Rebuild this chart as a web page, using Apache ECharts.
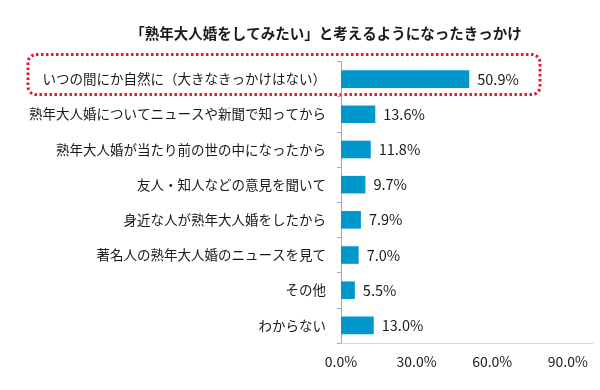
<!DOCTYPE html>
<html><head><meta charset="utf-8">
<script src="https://cdn.jsdelivr.net/npm/echarts@6/dist/echarts.min.js"></script>
<style>html,body{margin:0;padding:0;background:#fff}#c{width:600px;height:390px}</style>
</head><body><div id="c"></div>
<script>
const titleText = '「熟年大人婚をしてみたい」と考えるようになったきっかけ';
const categories = [
  'いつの間にか自然に（大きなきっかけはない）',
  '熟年大人婚についてニュースや新聞で知ってから',
  '熟年大人婚が当たり前の世の中になったから',
  '友人・知人などの意見を聞いて',
  '身近な人が熟年大人婚をしたから',
  '著名人の熟年大人婚のニュースを見て',
  'その他',
  'わからない'
];
const values = [50.9, 13.6, 11.8, 9.7, 7.9, 7.0, 5.5, 13.0];
const xTicks = [0, 30, 60, 90];

const font = '"Noto Sans CJK JP", "Noto Sans", sans-serif';
const chart = echarts.init(document.getElementById('c'));
chart.setOption({
  animation: false,
  title: {
    text: titleText, left: 321, top: 21, textAlign: 'center',
    textStyle: {fontFamily: font, fontSize: 14.5, fontWeight: 'bold', color: '#1a1a1a'}
  },
  grid: {left: 341, right: 7, top: 61.5, bottom: 47, containLabel: false},
  xAxis: {
    type: 'value', min: 0, max: 100, interval: 30,
    axisLine: {show: true, lineStyle: {color: '#d9d9d9'}},
    axisTick: {show: false},
    splitLine: {show: false},
    axisLabel: {
      showMaxLabel: false, margin: 12,
      fontFamily: font, fontSize: 14, color: '#1a1a1a',
      formatter: v => xTicks.includes(v) ? v.toFixed(1) + '%' : ''
    }
  },
  yAxis: {
    type: 'category', data: categories, inverse: true,
    axisLine: {show: true, lineStyle: {color: '#a6a6a6'}},
    axisTick: {show: true, length: 4, lineStyle: {color: '#a6a6a6'}},
    axisLabel: {margin: 15, fontFamily: font, fontSize: 13.5, color: '#1a1a1a'}
  },
  series: [{
    type: 'bar', data: values, barWidth: '50%',
    itemStyle: {color: '#0097cc'},
    label: {
      show: true, position: 'right', distance: 8,
      fontFamily: font, fontSize: 14.5, color: '#1a1a1a',
      formatter: p => p.value.toFixed(1) + '%'
    }
  }]
});
const cy = chart.convertToPixel({yAxisIndex: 0}, categories[0]);
chart.setOption({
  graphic: [{
    type: 'rect', silent: true,
    shape: {x: 28, y: cy - 24.5, width: 512, height: 40, r: 8},
    style: {fill: 'none', stroke: '#e8182e', lineWidth: 3, lineDash: [2.5, 2.5]}
  }]
});
</script></body></html>
